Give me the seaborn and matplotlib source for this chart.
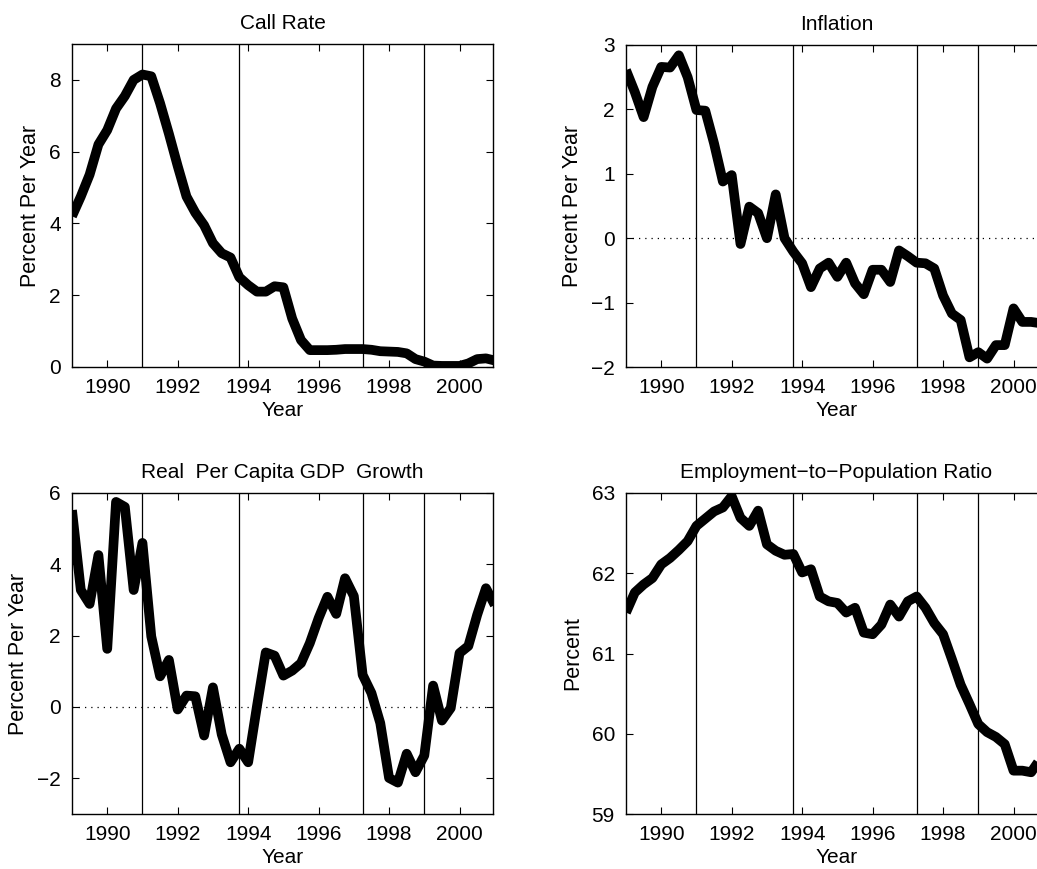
import numpy as np
import pandas as pd
import matplotlib
matplotlib.use("Agg")
import matplotlib.pyplot as plt
import seaborn as sns

# ---- data (quarterly, 1989Q1 .. 2001Q1) ----
years = [1989 + 0.25 * k for k in range(49)]

call_rate = [4.2, 4.75, 5.36, 6.2, 6.6, 7.2, 7.55, 8.0, 8.15, 8.1, 7.35, 6.5,
             5.6, 4.75, 4.3, 3.95, 3.45, 3.17, 3.05, 2.5, 2.28, 2.1, 2.1, 2.25,
             2.22, 1.35, 0.75, 0.47, 0.47, 0.47, 0.48, 0.5, 0.5, 0.5, 0.48, 0.44,
             0.43, 0.42, 0.38, 0.22, 0.15, 0.04, 0.03, 0.03, 0.03, 0.1, 0.22, 0.24,
             0.18]

inflation = [2.61, 2.27, 1.88, 2.35, 2.66, 2.65, 2.84, 2.5, 1.99, 1.98, 1.47, 0.88,
             0.98, -0.09, 0.49, 0.39, 0.0, 0.68, 0.0, -0.21, -0.39, -0.76, -0.47, -0.38,
             -0.6, -0.38, -0.7, -0.87, -0.49, -0.49, -0.68, -0.19, -0.28, -0.38, -0.39, -0.47,
             -0.89, -1.17, -1.27, -1.85, -1.77, -1.87, -1.66, -1.66, -1.09, -1.3, -1.3, -1.32,
             -1.32]

gdp_growth = [5.52, 3.28, 2.89, 4.26, 1.63, 5.75, 5.61, 3.28, 4.6, 1.98, 0.86, 1.32,
              -0.07, 0.32, 0.3, -0.8, 0.55, -0.77, -1.55, -1.17, -1.55, 0.02, 1.53, 1.44,
              0.88, 1.02, 1.23, 1.79, 2.49, 3.09, 2.61, 3.61, 3.11, 0.9, 0.39, -0.45,
              -1.99, -2.12, -1.31, -1.83, -1.36, 0.6, -0.38, -0.03, 1.51, 1.71, 2.58, 3.33,
              2.86]

employment = [61.51, 61.76, 61.86, 61.94, 62.11, 62.19, 62.29, 62.4, 62.59, 62.68, 62.77, 62.82,
              62.96, 62.69, 62.59, 62.78, 62.36, 62.28, 62.23, 62.24, 62.01, 62.05, 61.71, 61.65,
              61.63, 61.51, 61.57, 61.26, 61.24, 61.36, 61.61, 61.46, 61.65, 61.71, 61.57, 61.38,
              61.24, 60.93, 60.61, 60.37, 60.12, 60.02, 59.96, 59.87, 59.54, 59.54, 59.52, 59.68,
              59.8]

event_dates = [1991.0, 1993.75, 1997.25, 1999.0]
x_ticks = [1990, 1992, 1994, 1996, 1998, 2000]

panels = [
    dict(title="Call Rate", y=call_rate, ylabel="Percent Per Year", ylim=(0, 9),
         yticks=[0, 2, 4, 6, 8], zero=False),
    dict(title="Inflation", y=inflation, ylabel="Percent Per Year", ylim=(-2, 3),
         yticks=[-2, -1, 0, 1, 2, 3], zero=True),
    dict(title="Real  Per Capita GDP  Growth", y=gdp_growth, ylabel="Percent Per Year",
         ylim=(-3, 6), yticks=[-2, 0, 2, 4, 6], zero=True),
    dict(title="Employment\u2212to\u2212Population Ratio", y=employment, ylabel="Percent",
         ylim=(59, 63), yticks=[59, 60, 61, 62, 63], zero=False),
]

sns.set_style("ticks")
plt.rcParams["font.family"] = ["Liberation Sans", "DejaVu Sans"]
plt.rcParams["axes.unicode_minus"] = True
plt.rcParams["text.color"] = "black"
plt.rcParams["axes.labelcolor"] = "black"
plt.rcParams["xtick.color"] = "black"
plt.rcParams["ytick.color"] = "black"

W, H = 1037, 869
fig = plt.figure(figsize=(W / 100, H / 100), dpi=100)

# axes boxes in pixels: left, top, right, bottom
boxes = [
    (72, 44, 493, 367),
    (626, 45, 1047, 367),
    (72, 493, 493, 814),
    (626, 493, 1047, 814),
]

for p, (l, t, r, b) in zip(panels, boxes):
    ax = fig.add_axes([l / W, 1 - b / H, (r - l) / W, (b - t) / H])
    df = pd.DataFrame({"Year": years, "val": p["y"]})
    for xv in event_dates:
        ax.axvline(xv, color="black", lw=0.9, zorder=1)
    if p["zero"]:
        ax.axhline(0, color="black", lw=0.9, ls=(0, (1, 4)), zorder=1)
    sns.lineplot(data=df, x="Year", y="val", ax=ax, color="black", lw=7,
                 solid_joinstyle="round", solid_capstyle="butt", zorder=3)
    ax.set_xlim(1989, 2000.95)
    ax.set_ylim(*p["ylim"])
    ax.set_xticks(x_ticks)
    ax.set_yticks(p["yticks"])
    ax.set_title(p["title"], fontsize=15, pad=11, color="black")
    ax.set_xlabel("Year", fontsize=15, labelpad=3)
    ax.set_ylabel(p["ylabel"], fontsize=15.5, labelpad=6)
    ax.tick_params(direction="in", length=5, width=0.8, top=True, right=True,
                   labelsize=15, pad=8, colors="black")
    for s in ax.spines.values():
        s.set_visible(True)
        s.set_linewidth(1.0)
        s.set_color("black")

fig.savefig("out.png", dpi=100)
